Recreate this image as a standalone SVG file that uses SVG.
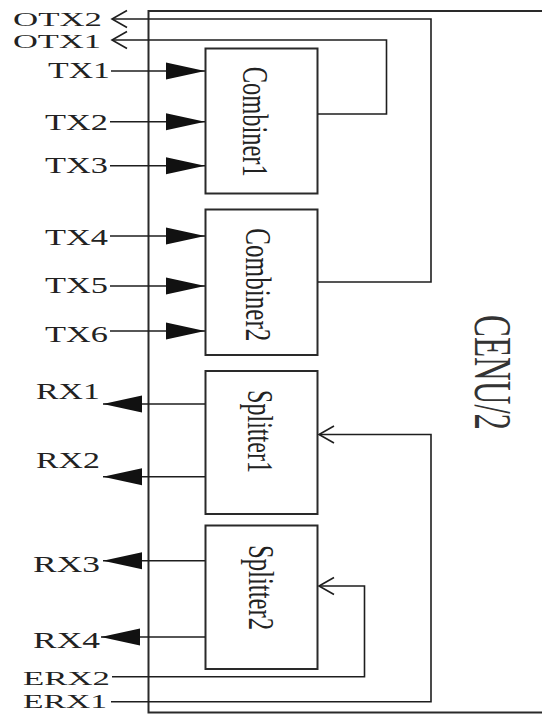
<svg xmlns="http://www.w3.org/2000/svg" width="542" height="715" viewBox="0 0 542 715">
<style>
.lbl{font-family:"Liberation Serif","Times New Roman",serif;font-size:24px;fill:#222}
.sm{font-size:19.5px}
.rot{font-family:"Liberation Serif","Times New Roman",serif;font-size:24px;fill:#222;text-anchor:middle}
.box{fill:#fff;stroke:#2a2a2a;stroke-width:2}
.wire{fill:none;stroke:#1e1e1e;stroke-width:1.6}
</style>
<defs>
<marker id="fill" markerUnits="userSpaceOnUse" markerWidth="40" markerHeight="18" refX="39" refY="9" orient="auto">
<path d="M0,0.5 L39,9 L0,17.5 z" fill="#111"/>
</marker>
<marker id="open" markerUnits="userSpaceOnUse" markerWidth="18" markerHeight="20" refX="16" refY="10" orient="auto">
<path d="M1,1.5 L16,10 L1,18.5" fill="none" stroke="#1e1e1e" stroke-width="1.6"/>
</marker>
</defs>

<g id="cenu">
<path d="M542,11 H148.5 V712.5 H542" fill="none" stroke="#2a2a2a" stroke-width="2"/>
<text class="rot" style="font-size:33px;fill:#333" textLength="115" lengthAdjust="spacingAndGlyphs" transform="translate(475,372.5) scale(1.62,1) rotate(90)">CENU/2</text>
</g>

<g id="combiner1">
<rect class="box" x="205.5" y="48.5" width="112" height="145"/>
<text class="rot" textLength="110" lengthAdjust="spacingAndGlyphs" transform="translate(243,121.7) scale(1.45,1) rotate(90)">Combiner1</text>
</g>
<g id="combiner2">
<rect class="box" x="205.5" y="209.5" width="112" height="145.5"/>
<text class="rot" textLength="113" lengthAdjust="spacingAndGlyphs" transform="translate(246,284.8) scale(1.45,1) rotate(90)">Combiner2</text>
</g>
<g id="splitter1">
<rect class="box" x="205.5" y="371" width="112" height="143"/>
<text class="rot" textLength="83" lengthAdjust="spacingAndGlyphs" transform="translate(248,431.5) scale(1.45,1) rotate(90)">Splitter1</text>
</g>
<g id="splitter2">
<rect class="box" x="205.5" y="525.5" width="112" height="143.5"/>
<text class="rot" textLength="85" lengthAdjust="spacingAndGlyphs" transform="translate(249,587.5) scale(1.45,1) rotate(90)">Splitter2</text>
</g>

<g id="labels">
<text class="lbl sm" x="13" y="26" textLength="89" lengthAdjust="spacingAndGlyphs">OTX2</text>
<text class="lbl sm" x="13" y="48" textLength="88" lengthAdjust="spacingAndGlyphs">OTX1</text>
<text class="lbl" x="48" y="78" textLength="62" lengthAdjust="spacingAndGlyphs">TX1</text>
<text class="lbl" x="45" y="130" textLength="63" lengthAdjust="spacingAndGlyphs">TX2</text>
<text class="lbl" x="45" y="173" textLength="63" lengthAdjust="spacingAndGlyphs">TX3</text>
<text class="lbl" x="45" y="245" textLength="63" lengthAdjust="spacingAndGlyphs">TX4</text>
<text class="lbl" x="45" y="293" textLength="63" lengthAdjust="spacingAndGlyphs">TX5</text>
<text class="lbl" x="45" y="341.5" textLength="63" lengthAdjust="spacingAndGlyphs">TX6</text>
<text class="lbl" x="36" y="399" textLength="64" lengthAdjust="spacingAndGlyphs">RX1</text>
<text class="lbl" x="36" y="468" textLength="64" lengthAdjust="spacingAndGlyphs">RX2</text>
<text class="lbl" x="33" y="571.5" textLength="67" lengthAdjust="spacingAndGlyphs">RX3</text>
<text class="lbl" x="33" y="648" textLength="67" lengthAdjust="spacingAndGlyphs">RX4</text>
<text class="lbl sm" x="23" y="685" textLength="87" lengthAdjust="spacingAndGlyphs">ERX2</text>
<text class="lbl sm" x="23" y="708" textLength="84" lengthAdjust="spacingAndGlyphs">ERX1</text>
</g>

<g id="connectors">
<path class="wire" d="M111,71 H205" marker-end="url(#fill)"/>
<path class="wire" d="M110,121.7 H205" marker-end="url(#fill)"/>
<path class="wire" d="M110,165.7 H205" marker-end="url(#fill)"/>
<path class="wire" d="M110,236 H205" marker-end="url(#fill)"/>
<path class="wire" d="M110,286 H205" marker-end="url(#fill)"/>
<path class="wire" d="M110,331 H205" marker-end="url(#fill)"/>
<path class="wire" d="M205,404 H103" marker-end="url(#fill)"/>
<path class="wire" d="M205,476.7 H103" marker-end="url(#fill)"/>
<path class="wire" d="M205,560.7 H103" marker-end="url(#fill)"/>
<path class="wire" d="M205,637 H101" marker-end="url(#fill)"/>
<path class="wire" d="M318,114 H386.5 V40 H112" marker-end="url(#open)"/>
<path class="wire" d="M318,282 H431 V19 H112" marker-end="url(#open)"/>
<path class="wire" d="M111,701.7 H431 V434.5 H319" marker-end="url(#open)"/>
<path class="wire" d="M112,676.7 H364.5 V586 H319" marker-end="url(#open)"/>
</g>
</svg>
